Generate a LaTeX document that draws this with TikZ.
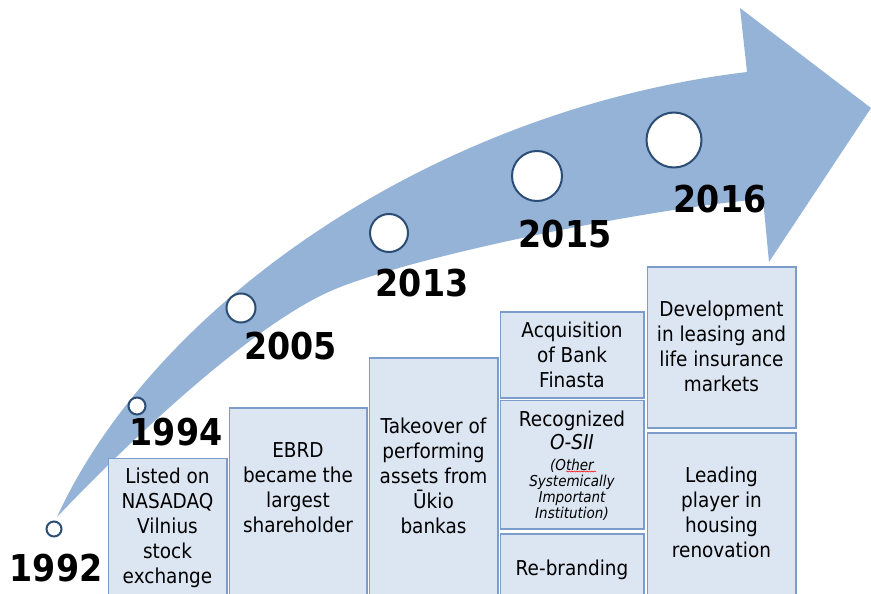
\documentclass[tikz,border=0pt]{standalone}
\usepackage{fontspec}
\setmainfont{DejaVu Sans}[FakeStretch=0.9]
\usepackage{xcolor}
\usetikzlibrary{decorations.pathmorphing}

\definecolor{arrowblue}{HTML}{95B3D7}
\definecolor{boxfill}{HTML}{DCE6F2}
\definecolor{boxline}{HTML}{7C9CCC}
\definecolor{ringblue}{HTML}{2C4D75}

\tikzset{
    event/.style={draw=boxline, fill=boxfill, line width=1.2pt},
    milestone/.style={circle, draw=ringblue, fill=white, line width=2pt, inner sep=0pt},
    year/.style={font=\fontsize{37}{37}\selectfont\bfseries, anchor=base, inner sep=0pt},
    note/.style={font=\fontsize{20.5}{25}\selectfont, align=center, anchor=base, inner sep=0pt},
    smallnote/.style={font=\fontsize{15}{16}\selectfont\itshape, align=center, anchor=base, inner sep=0pt}
}

\begin{document}
\begin{tikzpicture}[x=1pt, y=-1pt]
    \clip (0,0) rectangle (871,594);

    % Curved arrow
    \fill[arrowblue] (57,517) .. controls (153,307) and (430,110) .. (747,72)
        -- (740,8) -- (871,108) -- (769,262) -- (763,199)
        .. controls (650,208) and (413,256) .. (333,290)
        .. controls (253,324) and (130,440) .. (57,517) -- cycle;

    % Event boxes
    \draw[event] (108.5,458.5) rectangle (227,600);
    \draw[event] (229.5,408) rectangle (367,600);
    \draw[event] (369.5,358) rectangle (498,600);
    \draw[event] (500.5,312) rectangle (644,398);
    \draw[event] (500.5,400.5) rectangle (644,529);
    \draw[event] (500.5,534) rectangle (644,600);
    \draw[event] (647.5,267) rectangle (796,428);
    \draw[event] (647.5,433) rectangle (796,600);

    % Box texts (placed at the baseline of the last line)
    \node[note] (listed) at (167.5,583) {Listed on\\NASADAQ\\Vilnius\\stock\\exchange};
    \node[note] (ebrd) at (298,532) {EBRD\\became the\\largest\\shareholder};
    \node[note] (takeover) at (433.5,533) {Takeover of\\performing\\assets from\\Ūkio\\bankas};
    \node[note] (finasta) at (572,387) {Acquisition\\of Bank\\Finasta};
    \node[note, font=\fontsize{20.5}{23}\selectfont] (osii) at (572,449) {Recognized\\\textit{O-SII}};
    \node[smallnote] (osiilong) at (572,518) {(Other\\Systemically\\Important\\Institution)};
    \draw[red, line width=0.5pt, decorate, decoration={snake, amplitude=0.6pt, segment length=2.5pt}]
        (566,471.5) -- (596,471.5);
    \node[note] (rebrand) at (572,575) {Re-branding};
    \node[note] (leasing) at (721.5,391) {Development\\in leasing and\\life insurance\\markets};
    \node[note] (housing) at (721.5,557) {Leading\\player in\\housing\\renovation};

    % Milestones
    \node[milestone, minimum size=15pt] (m1992) at (54,529) {};
    \node[milestone, minimum size=17pt] (m1994) at (137,406) {};
    \node[milestone, minimum size=29pt] (m2005) at (241,308) {};
    \node[milestone, minimum size=38pt] (m2013) at (389,233) {};
    \node[milestone, minimum size=50pt] (m2015) at (537,176) {};
    \node[milestone, minimum size=55pt] (m2016) at (674,140) {};

    % Years
    \node[year] (y1992) at (56,581) {1992};
    \node[year] (y1994) at (176,445) {1994};
    \node[year] (y2005) at (290.5,359) {2005};
    \node[year] (y2013) at (422,296) {2013};
    \node[year] (y2015) at (565,247) {2015};
    \node[year] (y2016) at (720,212) {2016};
\end{tikzpicture}
\end{document}
